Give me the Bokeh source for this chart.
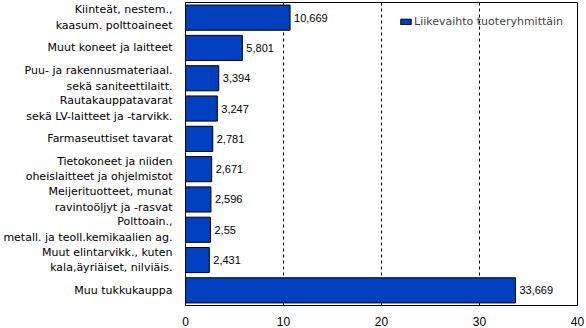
from bokeh.plotting import figure
from bokeh.models import ColumnDataSource, Legend, LegendItem, FixedTicker
from bokeh.embed import file_html
from bokeh.resources import INLINE
from bokeh.core.properties import value

categories = [
    "Kiinteät, nestem.,\nkaasum. polttoaineet",
    "Muut koneet ja laitteet",
    "Puu- ja rakennusmateriaal.\nsekä saniteettilaitt.",
    "Rautakauppatavarat\nsekä LV-laitteet ja -tarvikk.",
    "Farmaseuttiset tavarat",
    "Tietokoneet ja niiden\noheislaitteet ja ohjelmistot",
    "Meijerituotteet, munat\nravintoöljyt ja -rasvat",
    "Polttoain.,\nmetall. ja teoll.kemikaalien ag.",
    "Muut elintarvikk., kuten\nkala,äyriäiset, nilviäis.",
    "Muu tukkukauppa",
]
values = [10.669, 5.801, 3.394, 3.247, 2.781, 2.671, 2.596, 2.55, 2.431, 33.669]
value_labels = ["10,669", "5,801", "3,394", "3,247", "2,781", "2,671", "2,596", "2,55", "2,431", "33,669"]
x_ticks = [0, 10, 20, 30, 40]
series_name = "Liikevaihto tuoteryhmittäin"

src = ColumnDataSource(dict(cat=categories, val=values, lab=value_labels))

p = figure(width=586, height=328, y_range=list(reversed(categories)), x_range=(0, 40),
           output_backend="svg", toolbar_location=None,
           min_border_left=183, min_border_right=9, min_border_top=2, min_border_bottom=0)

bars = p.hbar(y="cat", right="val", left=0, height=0.83, source=src,
              fill_color="#0040C0", line_color="black", line_width=1)
p.text(x="val", y="cat", text="lab", source=src, x_offset=4,
       text_baseline="middle", text_align="left", text_font=value("Liberation Sans"),
       text_font_size="11px", text_color="black")

p.xaxis.ticker = FixedTicker(ticks=x_ticks)
p.xaxis.major_tick_line_color = None
p.xaxis.minor_tick_line_color = None
p.xaxis.axis_line_color = "black"
p.xaxis.major_label_text_font = "Liberation Sans"
p.xaxis.major_label_text_font_size = "12px"
p.xaxis.major_label_text_color = "black"
p.xaxis.major_label_standoff = 5

p.yaxis.major_tick_line_color = None
p.yaxis.minor_tick_line_color = None
p.yaxis.axis_line_color = "black"
p.yaxis.major_label_text_font = "DejaVu Sans"
p.yaxis.major_label_text_font_size = "11px"
p.yaxis.major_label_text_color = "black"
p.yaxis.major_label_text_align = "right"
p.yaxis.major_label_standoff = 7

p.ygrid.grid_line_color = None
p.xgrid.grid_line_color = "black"
p.xgrid.grid_line_dash = "3 3"
p.xgrid.ticker = FixedTicker(ticks=[10, 20, 30])

p.outline_line_color = "black"
p.outline_line_alpha = 1

legend = Legend(items=[LegendItem(label=series_name, renderers=[bars])],
                location=(214, 277), background_fill_alpha=0, border_line_color=None,
                label_text_font="DejaVu Sans", label_text_font_size="11px",
                glyph_width=13, glyph_height=7, label_standoff=2, padding=4, margin=0,
                spacing=0, label_height=12)
p.add_layout(legend)

open("out.html", "w").write(file_html(p, INLINE))
